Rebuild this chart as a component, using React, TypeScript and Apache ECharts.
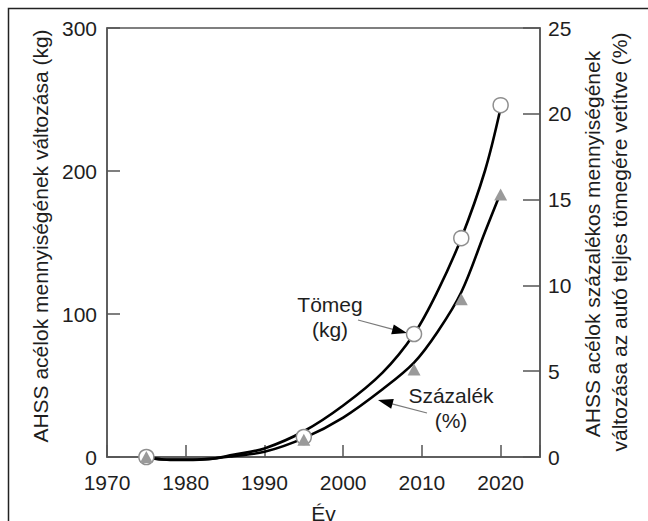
import React, { useEffect, useRef } from "react";
import * as echarts from "echarts";

// Smoothed trend curves
const curveYears = [1976, 1978, 1980, 1983, 1986, 1990, 1995, 2000, 2005, 2009, 2012, 2015, 2018, 2020];
const massCurve = [-1, -2, -2, -1.5, 1.5, 6, 18, 36, 59, 86, 116, 153, 200, 244];
const pctCurve = [-0.1, -0.15, -0.15, -0.1, 0.05, 0.3, 1.1, 2.3, 3.95, 5.5, 7.3, 9.6, 13.1, 15.4];

// Measured points
const pointYears = [1975, 1995, 2009, 2015, 2020];
const massPoints = [0, 14, 86, 153, 246];
const pctPoints = [0, 1.0, 5.1, 9.2, 15.3];

// Axis ticks
const xTicks = [1970, 1980, 1990, 2000, 2010, 2020];

const FONT = "'Liberation Sans', Arial, Helvetica, sans-serif";
const TXT = "#1e1e1e";
const AX = "#555";

export default function App() {
  const ref = useRef<HTMLDivElement>(null);
  useEffect(() => {
    if (!ref.current) return;
    const el = ref.current;
    const chart = echarts.init(el, undefined, { renderer: "svg" });
    const zip = (xs: number[], ys: number[]) => xs.map((x, i) => [x, ys[i]]);
    const option: any = {
      animation: false,
      backgroundColor: "#fff",
      textStyle: { fontFamily: FONT, color: TXT },
      grid: {
        left: 107, right: 108, top: 28, bottom: 64,
        containLabel: false, outerBoundsMode: "none",
        show: true, borderColor: AX, borderWidth: 1.5, backgroundColor: "transparent",
      },
      xAxis: {
        type: "value", min: 1970, max: 2025, interval: 10,
        name: "Év", nameLocation: "middle", nameGap: 46,
        nameTextStyle: { fontSize: 21, color: TXT, fontFamily: FONT },
        axisLine: { show: true, lineStyle: { color: AX, width: 1.5 } },
        axisTick: { show: true, inside: true, length: 12, lineStyle: { color: AX, width: 1.5 } },
        axisLabel: {
          fontSize: 21, color: TXT, margin: 15, fontFamily: FONT,
          formatter: (v: number) => (xTicks.includes(v) ? String(v) : ""),
        },
        splitLine: { show: false },
      },
      yAxis: [
        {
          type: "value", position: "left", min: 0, max: 300, interval: 100,
          axisLine: { show: true, lineStyle: { color: AX, width: 1.5 } },
          axisTick: { show: true, inside: true, length: 13, lineStyle: { color: AX, width: 1.5 } },
          axisLabel: { fontSize: 21, color: TXT, margin: 10, fontFamily: FONT },
          splitLine: { show: false },
        },
        {
          type: "value", position: "right", min: 0, max: 25, interval: 5,
          axisLine: { show: true, lineStyle: { color: AX, width: 1.5 } },
          axisTick: { show: true, inside: true, length: 17, lineStyle: { color: AX, width: 1.5 } },
          axisLabel: { fontSize: 21, color: TXT, margin: 8, fontFamily: FONT },
          splitLine: { show: false },
        },
      ],
      series: [
        {
          type: "line", name: "Tömeg görbe", yAxisIndex: 0, data: zip(curveYears, massCurve),
          smooth: 0.35, symbol: "none", clip: false,
          lineStyle: { color: "#000", width: 2.6 }, z: 2,
        },
        {
          type: "line", name: "Százalék görbe", yAxisIndex: 1, data: zip(curveYears, pctCurve),
          smooth: 0.35, symbol: "none", clip: false,
          lineStyle: { color: "#000", width: 2.6 }, z: 2,
        },
        {
          type: "scatter", name: "Tömeg (kg)", yAxisIndex: 0, data: zip(pointYears, massPoints),
          symbol: "circle", symbolSize: 15,
          itemStyle: { color: "#fff", borderColor: "#8f8f8f", borderWidth: 1.5, opacity: 1 }, z: 3,
        },
        {
          type: "scatter", name: "Százalék (%)", yAxisIndex: 1, data: zip(pointYears, pctPoints),
          symbol: "triangle", symbolSize: [13, 12],
          itemStyle: { color: "#9a9a9a", opacity: 1 }, z: 4,
        },
      ],
      graphic: [
        {
          type: "rect", silent: true, z: 0,
          shape: { x: 8.5, y: 8.5, width: 700, height: 600 },
          style: { fill: "none", stroke: "#222", lineWidth: 1.5 },
        },
        {
          type: "text", x: 40, y: 236, rotation: Math.PI / 2,
          style: {
            text: "AHSS acélok mennyiségének változása (kg)", fontSize: 21, fontFamily: FONT,
            fill: TXT, align: "center", verticalAlign: "middle",
          },
        },
        {
          type: "text", x: 592, y: 244, rotation: Math.PI / 2,
          style: {
            text: "AHSS acélok százalékos mennyiségének", fontSize: 21, fontFamily: FONT,
            fill: TXT, align: "center", verticalAlign: "middle",
          },
        },
        {
          type: "text", x: 619, y: 242, rotation: Math.PI / 2,
          style: {
            text: "változása az autó teljes tömegére vetítve (%)", fontSize: 21, fontFamily: FONT,
            fill: TXT, align: "center", verticalAlign: "middle",
          },
        },
        {
          type: "text", x: 330, y: 317,
          style: {
            text: "Tömeg\n(kg)", fontSize: 21, fontFamily: FONT, lineHeight: 25,
            fill: TXT, align: "center", verticalAlign: "middle",
          },
        },
        {
          type: "text", x: 451, y: 408,
          style: {
            text: "Százalék\n(%)", fontSize: 21, fontFamily: FONT, lineHeight: 25,
            fill: TXT, align: "center", verticalAlign: "middle",
          },
        },
        {
          type: "line", shape: { x1: 358, y1: 320, x2: 393, y2: 329.3 },
          style: { stroke: "#7a7a7a", lineWidth: 1.2 },
        },
        {
          type: "polygon", shape: { points: [[407, 333], [391.2, 334.3], [393.8, 324.4]] },
          style: { fill: "#000" },
        },
        {
          type: "line", shape: { x1: 392, y1: 403.8, x2: 427, y2: 413 },
          style: { stroke: "#7a7a7a", lineWidth: 1.2 },
        },
        {
          type: "polygon", shape: { points: [[378, 400], [391.2, 408.7], [393.8, 399.0]] },
          style: { fill: "#000" },
        },
      ],
    };
    chart.setOption(option);
    return () => chart.dispose();
  }, []);
  return (
    <div
      ref={ref}
      style={{ position: "absolute", left: 0, top: 0, width: 648, height: 521 }}
    />
  );
}
